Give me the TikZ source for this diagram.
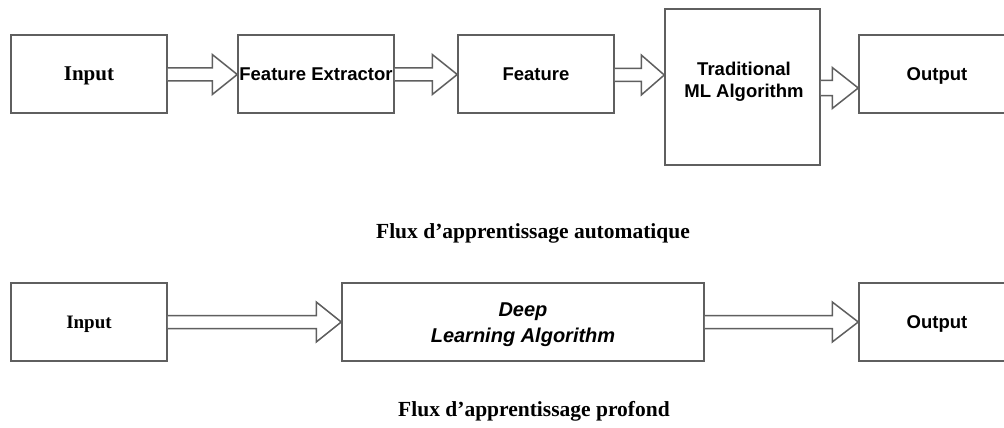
\documentclass[tikz,border=0pt]{standalone}
\usepackage{fontspec}
\setmainfont{Liberation Serif}
\newfontfamily\arialfont{Liberation Sans}
\usetikzlibrary{calc}
\definecolor{edgegray}{RGB}{95,95,95}
\tikzset{
  blockbox/.style={draw=edgegray, line width=1.5pt, fill=white, inner sep=0pt,
    minimum width=156pt, minimum height=78pt},
  sanslabel/.style={font=\arialfont\bfseries\fontsize{18.5}{22}\selectfont, align=center},
  oneline/.style={text depth=0pt},
  serflabel/.style={font=\bfseries\fontsize{21}{24}\selectfont},
  caption/.style={font=\bfseries\fontsize{21.5}{24}\selectfont, inner sep=0pt},
  fatline/.style={draw=edgegray, line width=1.5pt, fill=white, line join=miter}
}
% hollow block arrow: from node, to node, axis y, shaft half-width, head half-width, head length
\newcommand{\fatarrow}[6]{%
  \draw[fatline] let \p1=(#1.east), \p2=(#2.west) in
    (\x1,#3-#4) -- (\x2-#6,#3-#4) -- (\x2-#6,#3-#5) -- (\x2,#3)
    -- (\x2-#6,#3+#5) -- (\x2-#6,#3+#4) -- (\x1,#3+#4);}
\begin{document}
\begin{tikzpicture}[x=1pt, y=-1pt]
  \useasboundingbox (0,0) rectangle (1004,428);
  \clip (0,0) rectangle (1004,428);
  \fill[white] (0,0) rectangle (1004,428);

  % classical machine learning pipeline
  \node[blockbox, serflabel, oneline] (in1) at (89,74) {Input};
  \node[blockbox, sanslabel, oneline] (fe) at (316,74) {Feature Extractor};
  \node[blockbox, sanslabel, oneline] (feat) at (536,74) {Feature};
  \node[blockbox, minimum width=155pt, minimum height=156pt] (ml) at (742.5,87) {};
  \node[sanslabel] (mltext) at (744,82) {Traditional\\ ML Algorithm};
  \node[blockbox, sanslabel, oneline] (out1) at (937,74) {Output};

  \fatarrow{in1}{fe}{74.5}{6.5}{20}{25}
  \fatarrow{fe}{feat}{74.5}{6.5}{20}{25}
  \fatarrow{feat}{ml}{75}{6.5}{20}{23}
  \fatarrow{ml}{out1}{88}{7.5}{20.5}{26}

  \node[caption] (cap1) at (533,233) {Flux d’apprentissage automatique};

  % deep learning pipeline
  \node[blockbox, oneline, font=\bfseries\fontsize{19}{22}\selectfont] (in2) at (89,322) {Input};
  \node[blockbox, minimum width=362pt] (dl) at (523,322) {};
  \node[align=center, font=\arialfont\bfseries\itshape\fontsize{20}{26}\selectfont]
        (dltext) at (523,325) {Deep\\ Learning Algorithm};
  \node[blockbox, sanslabel, oneline] (out2) at (937,322) {Output};

  \fatarrow{in2}{dl}{322}{6.5}{20}{25}
  \fatarrow{dl}{out2}{322}{6.5}{20}{26}

  \node[caption] (cap2) at (534,411) {Flux d’apprentissage profond};
\end{tikzpicture}
\end{document}
